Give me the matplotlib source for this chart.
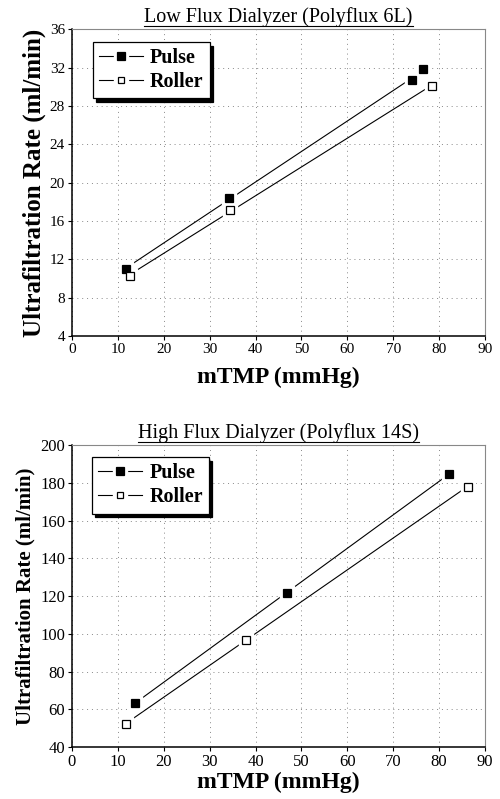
import numpy as np
import matplotlib
matplotlib.use("Agg")
import matplotlib.pyplot as plt
from matplotlib.lines import Line2D

plt.rcParams["font.family"] = ["Liberation Serif", "DejaVu Serif"]

# -----------------------------
# Data
# -----------------------------
low_pulse_x = [11.7, 34.2, 74.1, 76.5]
low_pulse_y = [10.95, 18.4, 30.7, 31.8]
low_roller_x = [12.6, 34.4, 78.4]
low_roller_y = [10.3, 17.1, 30.1]

high_pulse_x = [13.8, 46.8, 82.2]
high_pulse_y = [63.4, 121.8, 184.7]
high_roller_x = [11.7, 37.9, 86.2]
high_roller_y = [52.3, 96.8, 178.0]

x_ticks = list(range(0, 91, 10))
low_y_ticks = list(range(4, 37, 4))
high_y_ticks = list(range(40, 201, 20))

fig = plt.figure(figsize=(5, 7.99), dpi=100)
ax1 = fig.add_axes([0.144, 0.5795, 0.826, 0.384])
ax2 = fig.add_axes([0.144, 0.065, 0.826, 0.378])


def draw_series(ax, xs, ys, filled):
    slope, icpt = np.polyfit(xs, ys, 1)
    xl = np.array([min(xs), max(xs)])
    ax.plot(xl, slope * xl + icpt, color="black", lw=0.8, zorder=2)
    # white halo so the line stops short of the markers
    ax.plot(xs, ys, ls="none", marker="s", ms=10, mfc="white", mec="white", zorder=3)
    ax.plot(xs, ys, ls="none", marker="s", ms=6.2,
            mfc="black" if filled else "white", mec="black", mew=0.9, zorder=4)


def legend_handle(filled):
    ln = Line2D([], [], color="black", lw=0.8)
    halo = Line2D([], [], ls="none", marker="s", ms=10, mfc="white", mec="white")
    mk = Line2D([], [], ls="none", marker="s", ms=6 if filled else 5,
                mfc="black" if filled else "white", mec="black", mew=0.9)
    return (ln, halo, mk)


def style_axes(ax, yticks, ylabel, ylsize, ticksize, xlpad, title, legend_anchor):
    ax.set_xlim(0, 90)
    ax.set_ylim(yticks[0], yticks[-1])
    ax.set_xticks(x_ticks)
    ax.set_yticks(yticks)
    ax.grid(True, color="#888888", ls=(0, (1, 4)), lw=0.7)
    ax.tick_params(direction="out", length=3, width=0.8, labelsize=ticksize, pad=2)
    for s in ["top", "right"]:
        ax.spines[s].set_color("#888888")
        ax.spines[s].set_linewidth(0.8)
    for s in ["left", "bottom"]:
        ax.spines[s].set_linewidth(1.1)
    ax.set_ylabel(ylabel, fontsize=ylsize, fontweight="bold", labelpad=3)
    ax.set_xlabel("mTMP (mmHg)", fontsize=17, fontweight="bold", labelpad=xlpad)
    t = ax.set_title(title, fontsize=14.5, pad=5)
    leg = ax.legend([legend_handle(True), legend_handle(False)], ["Pulse", "Roller"],
                    loc="upper left", bbox_to_anchor=legend_anchor, borderaxespad=0,
                    fancybox=False, edgecolor="black", framealpha=1,
                    shadow={"color": "black", "alpha": 1, "ox": 2.5, "oy": -2.5},
                    prop={"weight": "bold", "size": 14.5}, handlelength=2.2,
                    handletextpad=0.35, borderpad=0.3, labelspacing=0.2)
    leg.get_frame().set_linewidth(0.9)
    return t


draw_series(ax1, low_pulse_x, low_pulse_y, True)
draw_series(ax1, low_roller_x, low_roller_y, False)
t1 = style_axes(ax1, low_y_ticks, "Ultrafiltration Rate (ml/min)", 18, 11, 8,
                "Low Flux Dialyzer (Polyflux 6L)", (0.05, 0.957))

draw_series(ax2, high_pulse_x, high_pulse_y, True)
draw_series(ax2, high_roller_x, high_roller_y, False)
t2 = style_axes(ax2, high_y_ticks, "Ultrafiltration Rate (ml/min)", 15, 12, 1,
                "High Flux Dialyzer (Polyflux 14S)", (0.048, 0.959))

# underline the titles
fig.canvas.draw()
renderer = fig.canvas.get_renderer()
for t in [t1, t2]:
    bb = t.get_window_extent(renderer).transformed(fig.transFigure.inverted())
    y = bb.y0 + 0.002
    fig.add_artist(Line2D([bb.x0, bb.x1], [y, y], transform=fig.transFigure,
                          color="black", lw=0.8))

fig.savefig("out.png", dpi=100)
